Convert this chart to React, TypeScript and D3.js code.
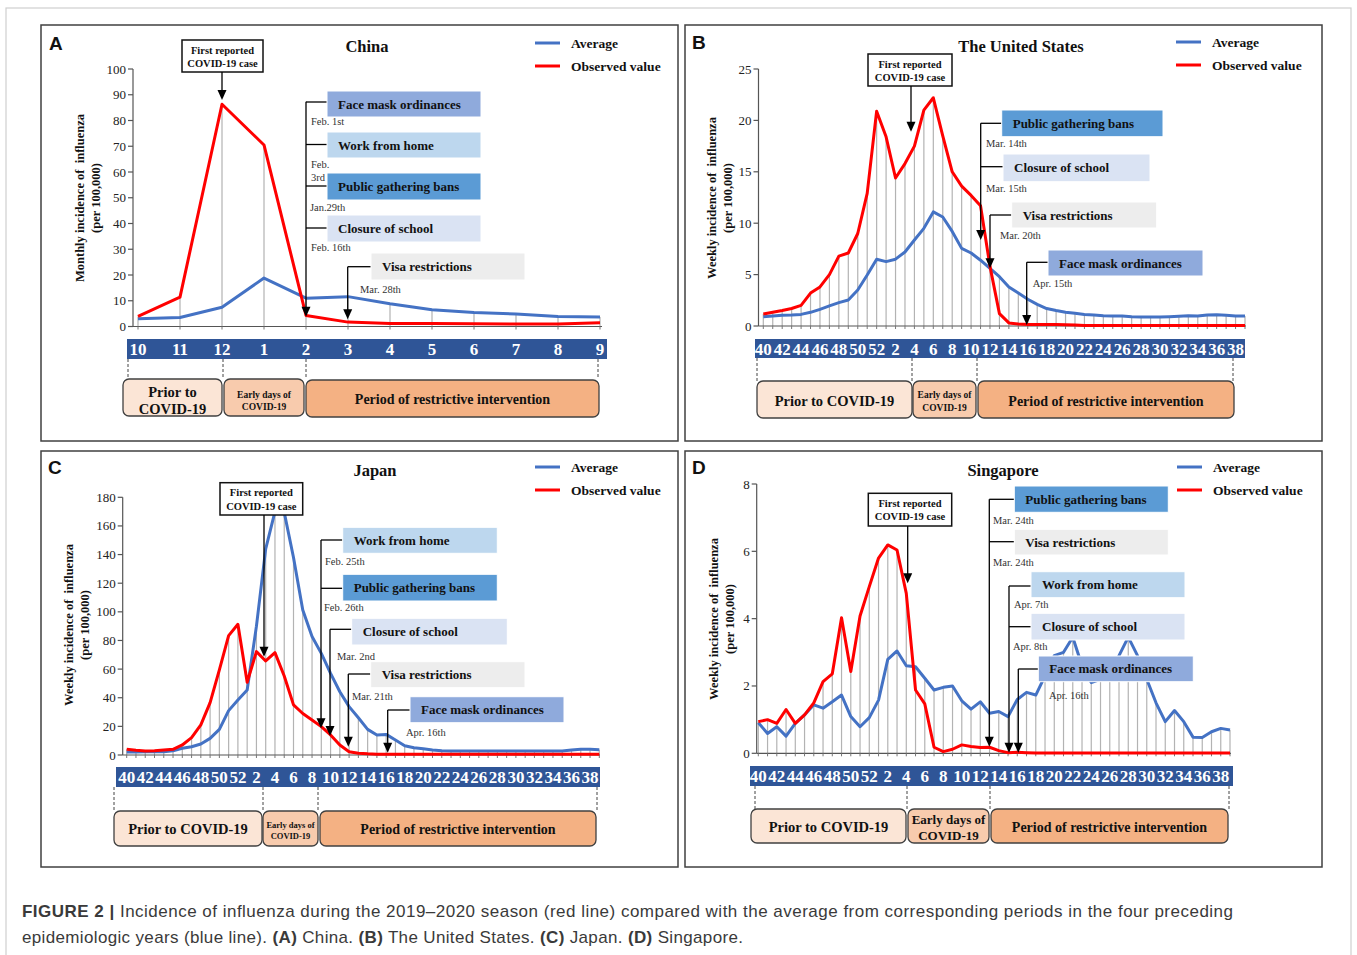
import React from 'react';
import * as d3 from 'd3';

const SERIF = "'Liberation Serif','Times New Roman',Times,serif";
const SANS = "'Liberation Sans',Arial,Helvetica,sans-serif";
const BLUE = '#4472c4';
const RED = '#ff0000';
const FACE = '#8faadc';
const WFH = '#bdd7ee';
const PGB = '#5b9bd5';
const COS = '#dae3f3';
const VISA = '#ededed';

// ---------- DATA ----------
const chinaMonths = ['10', '11', '12', '1', '2', '3', '4', '5', '6', '7', '8', '9'];
const chinaObserved = [3.9, 11.4, 86.3, 70.5, 4.3, 1.7, 1.2, 1.2, 1.1, 1.0, 1.0, 1.5];
const chinaAverage = [3.0, 3.5, 7.5, 18.8, 11.0, 11.6, 8.8, 6.5, 5.4, 4.9, 3.9, 3.7];
const chinaTicks = [0, 10, 20, 30, 40, 50, 60, 70, 80, 90, 100];

const weeks = ['40', '41', '42', '43', '44', '45', '46', '47', '48', '49', '50', '51', '52',
  '1', '2', '3', '4', '5', '6', '7', '8', '9', '10', '11', '12', '13', '14', '15', '16', '17', '18', '19', '20',
  '21', '22', '23', '24', '25', '26', '27', '28', '29', '30', '31', '32', '33', '34', '35', '36', '37', '38', '39'];

const usObserved = [1.17, 1.33, 1.5, 1.7, 2.0, 3.2, 3.8, 5.0, 6.8, 7.1,
  9.0, 12.9, 20.9, 18.4, 14.4, 15.8, 17.5, 21.0, 22.2, 18.5,
  15.0, 13.6, 12.7, 11.7, 5.8, 1.2, 0.3, 0.2, 0.15, 0.15,
  0.15, 0.15, 0.12, 0.1, 0.05, 0.05, 0.05, 0.06, 0.06, 0.05,
  0.05, 0.05, 0.05, 0.05, 0.05, 0.05, 0.05, 0.05, 0.05, 0.05,
  0.05, 0.05];
const usAverage = [0.9, 0.97, 1.04, 1.07, 1.13, 1.33, 1.62, 1.95, 2.27, 2.53,
  3.5, 4.96, 6.5, 6.26, 6.5, 7.2, 8.37, 9.5, 11.1, 10.6,
  9.2, 7.55, 7.1, 6.4, 5.6, 4.8, 3.8, 3.2, 2.6, 2.1,
  1.7, 1.5, 1.33, 1.23, 1.13, 1.07, 1.0, 0.97, 0.97, 0.9,
  0.87, 0.87, 0.87, 0.9, 0.94, 1.0, 0.97, 1.07, 1.1, 1.04,
  0.97, 0.97];
const usTicks = [0, 5, 10, 15, 20, 25];

const japanObserved = [4.0, 3.3, 2.8, 3.0, 3.5, 4.0, 7.0, 12.1, 21, 36.6,
  59.4, 83.4, 91.3, 50.8, 72.2, 65.7, 71.5, 55.2, 35, 29,
  24.5, 19.8, 14, 7, 2.3, 1.2, 0.8, 0.6, 0.6, 0.6,
  0.6, 0.6, 0.6, 0.6, 0.6, 0.6, 0.6, 0.6, 0.6, 0.6,
  0.6, 0.6, 0.6, 0.6, 0.6, 0.6, 0.6, 0.6, 0.6, 0.6,
  0.6, 0.6];
const japanAverage = [2.1, 2.1, 2.3, 2.3, 2.3, 3.0, 4.7, 5.8, 7.7, 11.6,
  17.9, 31, 38.4, 45.4, 90, 144, 170, 169.5, 137.9, 101.3,
  82.7, 71, 57, 44.2, 33.8, 26, 17.9, 14, 14.4, 10.5,
  6.5, 5.1, 4.4, 3.5, 3.0, 2.8, 2.8, 2.8, 2.8, 2.8,
  2.8, 2.8, 2.8, 2.8, 2.8, 2.8, 2.8, 2.8, 3.5, 4.0,
  4.0, 3.7];
const japanTicks = [0, 20, 40, 60, 80, 100, 120, 140, 160, 180];

const singaporeObserved = [0.94, 1.0, 0.89, 1.3, 0.89, 1.14, 1.5, 2.13, 2.36, 4.03,
  2.43, 4.08, 4.95, 5.8, 6.19, 6.04, 4.75, 1.88, 1.47, 0.18,
  0.05, 0.12, 0.25, 0.2, 0.17, 0.18, 0.08, 0.02, 0.03, 0.02,
  0.01, 0.01, 0.01, 0.01, 0.01, 0.01, 0.01, 0.01, 0.01, 0.01,
  0.01, 0.01, 0.01, 0.01, 0.01, 0.01, 0.01, 0.01, 0.01, 0.01,
  0.01, 0.01];
const singaporeAverage = [0.91, 0.59, 0.79, 0.51, 0.89, 1.14, 1.44, 1.34, 1.53, 1.73,
  1.09, 0.79, 1.06, 1.58, 2.79, 3.04, 2.6, 2.57, 2.23, 1.88,
  1.96, 2.0, 1.56, 1.31, 1.53, 1.19, 1.24, 1.09, 1.6, 1.81,
  1.73, 2.3, 2.9, 3.0, 3.45, 2.6, 2.1, 2.2, 2.3, 2.9,
  3.45, 2.9, 2.2, 1.5, 0.94, 1.27, 0.94, 0.48, 0.47, 0.64,
  0.74, 0.69];
const singaporeTicks = [0, 2, 4, 6, 8];

// ---------- LAYOUT ----------
type Ann = { label: string; fill: string; x: number; y: number; w: number; h: number; lineX: number; lineY: number; date: string[]; dateX: number; dateY: number[] };
type Bracket = { x: number; top: number; tip: number };
type Period = { x: number; y: number; w: number; h: number; fill: string; lines: string[]; fs: number; baselines: number[] };

const PRIOR = '#fbe5d6';
const EARLY = '#f8cbad';
const PERIOD = '#f4b183';

const panels: any[] = [
  {
    frame: [41, 25, 637, 416], letter: 'A', letterPos: [49, 50], title: 'China', titlePos: [367, 52],
    legend: [535, 43, 571], yLabel: ['Monthly incidence of  influenza', '(per 100,000)'], yLabelX: [84, 100], yLabelY: 198,
    labels: chinaMonths, showLabel: () => true, obs: chinaObserved, avg: chinaAverage, ticks: chinaTicks,
    xRange: [138, 600], yRange: [326.5, 69], yMax: 100, axisX: 133, axisEnd: 602,
    strip: [127, 339, 480, 20], dashes: [128, 223, 306, 598], dashY: [359, 379],
    periods: [
      { x: 123, y: 379, w: 99, h: 37, fill: PRIOR, lines: ['Prior to', 'COVID-19'], fs: 14.5, baselines: [397, 414] },
      { x: 224, y: 379, w: 80, h: 37, fill: EARLY, lines: ['Early days of', 'COVID-19'], fs: 9.5, baselines: [398, 410] },
      { x: 306, y: 380, w: 293, h: 37, fill: PERIOD, lines: ['Period of restrictive intervention'], fs: 14, baselines: [404] },
    ],
    first: [182, 40, 81, 32, 222, 100],
    brackets: [{ x: 306, top: 101.7, tip: 316.7 }, { x: 347.7, top: 266.7, tip: 319.3 }],
    anns: [
      { label: 'Face mask ordinances', fill: FACE, x: 327, y: 91, w: 154, h: 26, lineX: 306, lineY: 102, date: ['Feb. 1st'], dateX: 311, dateY: [125] },
      { label: 'Work from home', fill: WFH, x: 327, y: 132, w: 154, h: 26, lineX: 306, lineY: 144.5, date: ['Feb.', '3rd'], dateX: 311, dateY: [168, 181] },
      { label: 'Public gathering bans', fill: PGB, x: 327, y: 173, w: 154, h: 27, lineX: 306, lineY: 186, date: ['Jan.29th'], dateX: 310, dateY: [210.5] },
      { label: 'Closure of school', fill: COS, x: 327, y: 215, w: 154, h: 27, lineX: 306, lineY: 228, date: ['Feb. 16th'], dateX: 311, dateY: [251] },
      { label: 'Visa restrictions', fill: VISA, x: 371, y: 253, w: 154, h: 27, lineX: 347.7, lineY: 266.7, date: ['Mar. 28th'], dateX: 360, dateY: [292.5] },
    ],
  },
  {
    frame: [685, 25, 637, 416], letter: 'B', letterPos: [692, 49], title: 'The United States', titlePos: [1021, 52],
    legend: [1176, 42, 1212], yLabel: ['Weekly incidence of  influenza', '(per 100,000)'], yLabelX: [716, 732], yLabelY: 198,
    labels: weeks, showLabel: (w: string) => +w % 2 === 0, obs: usObserved, avg: usAverage, ticks: usTicks,
    xRange: [763.3, 1245], yRange: [326, 69], yMax: 25, axisX: 758.5, axisEnd: 1246,
    strip: [755, 339, 490, 19], dashes: [757, 912, 977, 1233], dashY: [358, 381],
    periods: [
      { x: 757, y: 381, w: 155, h: 37, fill: PRIOR, lines: ['Prior to COVID-19'], fs: 14.5, baselines: [406] },
      { x: 913, y: 381, w: 63, h: 37, fill: EARLY, lines: ['Early days of', 'COVID-19'], fs: 9.5, baselines: [398, 411] },
      { x: 978, y: 381, w: 256, h: 37, fill: PERIOD, lines: ['Period of restrictive intervention'], fs: 14, baselines: [406] },
    ],
    first: [868, 54, 84, 32, 911, 131.7],
    brackets: [{ x: 980.7, top: 123.3, tip: 240 }, { x: 990, top: 215, tip: 268.3 }, { x: 1026.7, top: 262.3, tip: 325 }],
    anns: [
      { label: 'Public gathering bans', fill: PGB, x: 1001.7, y: 110, w: 161.3, h: 26.7, lineX: 980.7, lineY: 123.3, date: ['Mar. 14th'], dateX: 986, dateY: [147] },
      { label: 'Closure of school', fill: COS, x: 1003, y: 154, w: 147, h: 27.7, lineX: 980.7, lineY: 166.7, date: ['Mar. 15th'], dateX: 986, dateY: [192] },
      { label: 'Visa restrictions', fill: VISA, x: 1011.7, y: 202, w: 145, h: 26, lineX: 990, lineY: 215, date: ['Mar. 20th'], dateX: 1000, dateY: [239] },
      { label: 'Face mask ordinances', fill: FACE, x: 1048, y: 250, w: 155, h: 26, lineX: 1026.7, lineY: 262.3, date: ['Apr. 15th'], dateX: 1032.7, dateY: [287] },
    ],
  },
  {
    frame: [41, 451, 637, 416], letter: 'C', letterPos: [48, 474], title: 'Japan', titlePos: [375, 476],
    legend: [535, 467, 571], yLabel: ['Weekly incidence of  influenza', '(per 100,000)'], yLabelX: [73, 89], yLabelY: 625,
    labels: weeks, showLabel: (w: string) => +w % 2 === 0, obs: japanObserved, avg: japanAverage, ticks: japanTicks,
    xRange: [126.7, 599.3], yRange: [755, 497.3], yMax: 180, axisX: 122.7, axisEnd: 600,
    strip: [116, 767, 484, 20], dashes: [114, 263, 318, 597], dashY: [787, 811],
    periods: [
      { x: 114, y: 811, w: 148, h: 35, fill: PRIOR, lines: ['Prior to COVID-19'], fs: 14.5, baselines: [834] },
      { x: 263, y: 811, w: 55, h: 35, fill: EARLY, lines: ['Early days of', 'COVID-19'], fs: 8.5, baselines: [828, 839] },
      { x: 320, y: 811, w: 276, h: 35, fill: PERIOD, lines: ['Period of restrictive intervention'], fs: 14, baselines: [834] },
    ],
    first: [220, 482.7, 82.7, 32.3, 264, 656.7],
    brackets: [{ x: 321, top: 540, tip: 728.3 }, { x: 330, top: 629.3, tip: 736 }, { x: 348.3, top: 674, tip: 746.7 }, { x: 387.7, top: 710, tip: 752.7 }],
    anns: [
      { label: 'Work from home', fill: WFH, x: 342.7, y: 527.3, w: 154.6, h: 26, lineX: 321, lineY: 540, date: ['Feb. 25th'], dateX: 325, dateY: [565] },
      { label: 'Public gathering bans', fill: PGB, x: 342.7, y: 574.3, w: 154.6, h: 26.7, lineX: 321, lineY: 588.3, date: ['Feb. 26th'], dateX: 324, dateY: [611] },
      { label: 'Closure of school', fill: COS, x: 351.7, y: 618.3, w: 155.6, h: 26.7, lineX: 330, lineY: 629.3, date: ['Mar. 2nd'], dateX: 337, dateY: [659.5] },
      { label: 'Visa restrictions', fill: VISA, x: 370.7, y: 661.7, w: 154.3, h: 26, lineX: 348.3, lineY: 674, date: ['Mar. 21th'], dateX: 352, dateY: [700] },
      { label: 'Face mask ordinances', fill: FACE, x: 410, y: 696.7, w: 154, h: 26, lineX: 387.7, lineY: 710, date: ['Apr. 16th'], dateX: 406, dateY: [736] },
    ],
  },
  {
    frame: [685, 451, 637, 416], letter: 'D', letterPos: [692, 474], title: 'Singapore', titlePos: [1003, 476],
    legend: [1177, 467, 1213], yLabel: ['Weekly incidence of  influenza', '(per 100,000)'], yLabelX: [718, 734], yLabelY: 619,
    labels: weeks, showLabel: (w: string) => +w % 2 === 0, obs: singaporeObserved, avg: singaporeAverage, ticks: singaporeTicks,
    xRange: [758.3, 1230], yRange: [753.3, 484], yMax: 8, axisX: 756.7, axisEnd: 1231,
    strip: [750, 766, 483, 20], dashes: [755, 907, 990, 1229], dashY: [786, 809],
    periods: [
      { x: 751, y: 809, w: 155, h: 34, fill: PRIOR, lines: ['Prior to COVID-19'], fs: 14.5, baselines: [832] },
      { x: 908, y: 809, w: 81, h: 34, fill: EARLY, lines: ['Early days of', 'COVID-19'], fs: 13, baselines: [824, 840] },
      { x: 991, y: 809, w: 237, h: 34, fill: PERIOD, lines: ['Period of restrictive intervention'], fs: 14, baselines: [832] },
    ],
    first: [868.3, 493.3, 83.4, 32.7, 907.7, 583.3],
    brackets: [{ x: 989.3, top: 499.3, tip: 746.7 }, { x: 1009, top: 586, tip: 752.7 }, { x: 1018.3, top: 669, tip: 752.7 }],
    anns: [
      { label: 'Public gathering bans', fill: PGB, x: 1014.3, y: 486, w: 154, h: 26.3, lineX: 989.3, lineY: 499.3, date: ['Mar. 24th'], dateX: 993, dateY: [523.5] },
      { label: 'Visa restrictions', fill: VISA, x: 1014.3, y: 529.3, w: 154, h: 25.7, lineX: 989.3, lineY: 541.7, date: ['Mar. 24th'], dateX: 993, dateY: [566] },
      { label: 'Work from home', fill: WFH, x: 1031, y: 571.7, w: 154, h: 26, lineX: 1009, lineY: 586, date: ['Apr. 7th'], dateX: 1014, dateY: [607.5] },
      { label: 'Closure of school', fill: COS, x: 1031, y: 613.3, w: 154, h: 26.7, lineX: 1009, lineY: 626.7, date: ['Apr. 8th'], dateX: 1013, dateY: [649.5] },
      { label: 'Face mask ordinances', fill: FACE, x: 1038.3, y: 656, w: 155, h: 25.7, lineX: 1018.3, lineY: 669, date: ['Apr. 16th'], dateX: 1049, dateY: [698.5] },
    ],
  },
];

function Arrow({ x, top, tip }: Bracket) {
  return (
    <g>
      <line x1={x} x2={x} y1={top} y2={tip - 9} stroke="#000" strokeWidth={1.3} />
      <polygon points={`${x - 4.5},${tip - 10} ${x + 4.5},${tip - 10} ${x},${tip}`} fill="#000" />
    </g>
  );
}

function Panel({ cfg }: { cfg: any }) {
  const n = cfg.obs.length;
  const x = d3.scaleLinear().domain([0, n - 1]).range(cfg.xRange);
  const y = d3.scaleLinear().domain([0, cfg.yMax]).range(cfg.yRange);
  const line = d3.line<number>().x((_, i) => x(i)).y((d) => y(d));
  const [fx, fy, fw, fh] = cfg.frame;
  const [sx, sy, sw, sh] = cfg.strip;
  const [bx, by, bw, bh, ax, atip] = cfg.first;
  const [lx, ly, ltx] = cfg.legend;
  return (
    <g>
      <rect x={fx} y={fy} width={fw} height={fh} fill="#fff" stroke="#404040" strokeWidth={1.5} />
      <text x={cfg.letterPos[0]} y={cfg.letterPos[1]} fontFamily={SANS} fontWeight="bold" fontSize={19} fill="#111">{cfg.letter}</text>
      <text x={cfg.titlePos[0]} y={cfg.titlePos[1]} textAnchor="middle" fontFamily={SERIF} fontWeight="bold" fontSize={16.5} fill="#111">{cfg.title}</text>
      {/* legend */}
      <line x1={lx} x2={lx + 25} y1={ly} y2={ly} stroke={BLUE} strokeWidth={3} />
      <text x={ltx} y={ly + 5} fontFamily={SERIF} fontWeight="bold" fontSize={13.5} fill="#111">Average</text>
      <line x1={lx} x2={lx + 25} y1={ly + 23} y2={ly + 23} stroke={RED} strokeWidth={3} />
      <text x={ltx} y={ly + 28} fontFamily={SERIF} fontWeight="bold" fontSize={13.5} fill="#111">Observed value</text>
      {/* y label */}
      {cfg.yLabel.map((t: string, i: number) => (
        <text key={i} transform={`translate(${cfg.yLabelX[i]},${cfg.yLabelY}) rotate(-90)`} textAnchor="middle" fontFamily={SERIF} fontWeight="bold" fontSize={12.5} fill="#111" xmlSpace="preserve">{t}</text>
      ))}
      {/* y axis */}
      <line x1={cfg.axisX} x2={cfg.axisX} y1={y(cfg.yMax)} y2={y(0)} stroke="#555" strokeWidth={1.2} />
      {cfg.ticks.map((t: number) => (
        <g key={t}>
          <line x1={cfg.axisX - 5} x2={cfg.axisX} y1={y(t)} y2={y(t)} stroke="#555" strokeWidth={1.2} />
          <text x={cfg.axisX - 7} y={y(t) + 4.5} textAnchor="end" fontFamily={SERIF} fontSize={13} fill="#222">{t}</text>
        </g>
      ))}
      {/* drop lines */}
      {cfg.obs.map((v: number, i: number) => (
        <line key={i} x1={x(i)} x2={x(i)} y1={y(0)} y2={y(Math.max(v, cfg.avg[i]))} stroke="#b3b3b3" strokeWidth={1.2} />
      ))}
      {/* x axis */}
      <line x1={cfg.axisX} x2={cfg.axisEnd} y1={y(0)} y2={y(0)} stroke="#555" strokeWidth={1.2} />
      {cfg.obs.map((_: number, i: number) => (
        <line key={'t' + i} x1={x(i)} x2={x(i)} y1={y(0)} y2={y(0) + 3} stroke="#777" strokeWidth={1} />
      ))}
      <path d={line(cfg.avg) || ''} fill="none" stroke={BLUE} strokeWidth={3} strokeLinejoin="round" />
      <path d={line(cfg.obs) || ''} fill="none" stroke={RED} strokeWidth={3} strokeLinejoin="round" />
      {/* strip */}
      <rect x={sx} y={sy} width={sw} height={sh} fill="#2f5597" />
      {cfg.labels.map((l: string, i: number) => cfg.showLabel(l) ? (
        <text key={'l' + i} x={x(i)} y={sy + sh / 2 + 6} textAnchor="middle" fontFamily={SERIF} fontWeight="bold" fontSize={17} fill="#fff">{l}</text>
      ) : null)}
      {cfg.dashes.map((d: number, i: number) => (
        <line key={'d' + i} x1={d} x2={d} y1={cfg.dashY[0]} y2={cfg.dashY[1]} stroke="#444" strokeWidth={1} strokeDasharray="3,2" />
      ))}
      {cfg.periods.map((p: Period, i: number) => (
        <g key={'p' + i}>
          <rect x={p.x} y={p.y} width={p.w} height={p.h} rx={6} fill={p.fill} stroke="#404040" strokeWidth={1.3} />
          {p.lines.map((t, j) => (
            <text key={j} x={p.x + p.w / 2} y={p.baselines[j]} textAnchor="middle" fontFamily={SERIF} fontWeight="bold" fontSize={p.fs} fill="#111">{t}</text>
          ))}
        </g>
      ))}
      {/* first reported case */}
      <rect x={bx} y={by} width={bw} height={bh} fill="#fff" stroke="#111" strokeWidth={1.5} />
      <text x={bx + bw / 2} y={by + 13.5} textAnchor="middle" fontFamily={SERIF} fontWeight="bold" fontSize={10.5} fill="#111">First reported</text>
      <text x={bx + bw / 2} y={by + 27} textAnchor="middle" fontFamily={SERIF} fontWeight="bold" fontSize={10.5} fill="#111">COVID-19 case</text>
      <Arrow x={ax} top={by + bh} tip={atip} />
      {/* annotations */}
      {cfg.anns.map((a: Ann, i: number) => (
        <g key={'a' + i}>
          <line x1={a.lineX} x2={a.x} y1={a.lineY} y2={a.lineY} stroke="#000" strokeWidth={1.3} />
          <rect x={a.x} y={a.y} width={a.w} height={a.h} fill={a.fill} stroke="#fff" strokeWidth={1} />
          <text x={a.x + 11} y={a.y + a.h / 2 + 4.5} fontFamily={SERIF} fontWeight="bold" fontSize={13} fill="#111">{a.label}</text>
          {a.date.map((t, j) => (
            <text key={j} x={a.dateX} y={a.dateY[j]} fontFamily={SERIF} fontSize={10.5} fill="#333">{t}</text>
          ))}
        </g>
      ))}
      {cfg.brackets.map((b: Bracket, i: number) => <Arrow key={'b' + i} {...b} />)}
    </g>
  );
}

export default function App() {
  return (
    <svg width={1357} height={955} style={{ position: 'absolute', left: 0, top: 0, background: '#fff' }}>
      <rect x={0} y={0} width={1357} height={955} fill="#fff" />
      <rect x={6} y={8} width={1345} height={980} fill="none" stroke="#cfcfcf" strokeWidth={1.2} />
      {panels.map((p, i) => <Panel key={i} cfg={p} />)}
      <text x={22} y={917} fontFamily={SANS} fontSize={17} fill="#3a3a3a" textLength={1211} lengthAdjust="spacing">
        <tspan fontWeight="bold">FIGURE 2 |</tspan> Incidence of influenza during the 2019–2020 season (red line) compared with the average from corresponding periods in the four preceding
      </text>
      <text x={22} y={943} fontFamily={SANS} fontSize={17} fill="#3a3a3a" textLength={721} lengthAdjust="spacing">
        epidemiologic years (blue line). <tspan fontWeight="bold">(A)</tspan> China. <tspan fontWeight="bold">(B)</tspan> The United States. <tspan fontWeight="bold">(C)</tspan> Japan. <tspan fontWeight="bold">(D)</tspan> Singapore.
      </text>
    </svg>
  );
}
